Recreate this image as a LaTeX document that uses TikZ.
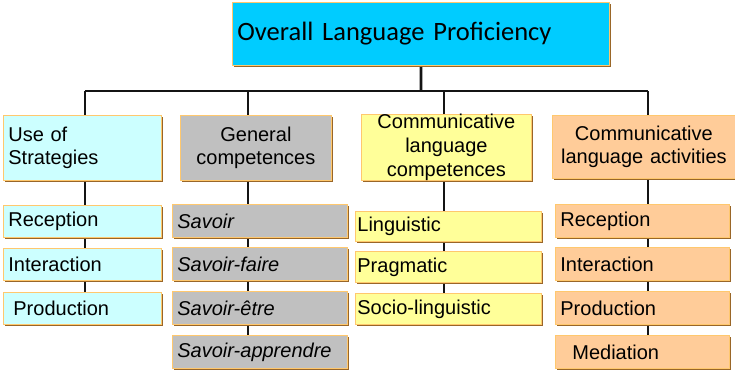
\documentclass[tikz,border=0pt]{standalone}
\usepackage{fontspec}
\setmainfont{Liberation Sans}
\newfontfamily\calibrifont{Carlito}
\usetikzlibrary{shadows,backgrounds}

\begin{document}
\begin{tikzpicture}[x=1bp,y=-1bp,
  box/.style={anchor=north west,draw=col_edge,line width=0.8bp,
    inner xsep=5bp,inner ysep=0bp,align=left,
    drop shadow={shadow xshift=1.3bp,shadow yshift=-1.3bp,fill=col_shade,opacity=1},
    font=\fontsize{20bp}{23.6bp}\selectfont},
  head/.style={minimum height=65bp},
  item/.style={minimum height=32bp},
  col1/.style={box,fill=col_use,minimum width=158bp,text width=148bp},
  col2/.style={box,fill=col_gen,minimum width=175bp,text width=165bp},
  col3/.style={box,fill=col_clc,minimum width=186bp,text width=176bp},
  col4/.style={box,fill=col_cla,minimum width=174bp,text width=164bp},
  link/.style={line width=2.7bp,draw=col_line}]
%
\definecolor{col_top}{RGB}{0,204,255}
\definecolor{col_use}{RGB}{204,255,255}
\definecolor{col_gen}{RGB}{192,192,192}
\definecolor{col_clc}{RGB}{255,255,153}
\definecolor{col_cla}{RGB}{255,204,153}
\definecolor{col_edge}{RGB}{255,200,110}
\definecolor{col_shade}{RGB}{153,102,40}
\definecolor{col_line}{RGB}{20,20,20}
%
\useasboundingbox (0,0) rectangle (735,371);
%
\node[box,fill=col_top,minimum width=377bp,text width=367bp,minimum height=63bp,
  font=\calibrifont\fontsize{26.5bp}{32bp}\selectfont] (top) at (232,2) {Overall Language Proficiency};
%
%
\node[col1,head,minimum width=158bp] (use) at (3,115) {Use of\\Strategies};
\node[col2,head,minimum width=151bp,text width=141bp,align=center] (gen) at (180,115) {General\\competences};
\node[col3,head,minimum width=170bp,text width=160bp,minimum height=64bp,align=center] (clc) at (361,114) {Communicative\\language\\competences};
\node[col4,head,minimum width=183bp,text width=173bp,minimum height=63bp,align=center] (cla) at (552,115) {Communicative\\language activities};
%
%
\node[col1,item] (useR) at (3,205) {Reception};
\node[col1,item] (useI) at (3,248) {Interaction};
\node[col1,item] (useP) at (3,292) {\hspace{5bp}Production};
%
\node[col2,item,minimum height=33bp] (genS) at (172,204) {\itshape Savoir};
\node[col2,item,minimum height=33bp] (genF) at (172,247) {\itshape Savoir-faire};
\node[col2,item,minimum height=33bp] (genE) at (172,291) {\itshape Savoir-\^etre};
\node[col2,item,minimum height=33bp] (genA) at (172,335) {\itshape Savoir-apprendre};
%
\node[col3,item,minimum height=30bp,inner xsep=2bp,text width=182bp] (clcL) at (355,211) {Linguistic};
\node[col3,item,minimum height=31bp,inner xsep=2bp,text width=182bp] (clcP) at (355,251) {Pragmatic};
\node[col3,item,minimum height=31bp,inner xsep=2bp,text width=182bp] (clcS) at (355,293) {Socio-linguistic};
%
\node[col4,item,minimum height=33bp] (claR) at (555,204) {Reception};
\node[col4,item,minimum height=33bp] (claI) at (555,247) {Interaction};
\node[col4,item,minimum height=33bp] (claP) at (555,291) {Production};
\node[col4,item,minimum height=33bp] (claM) at (555,335) {\hspace{12bp}Mediation};
%
%
\coordinate (bus) at (421,91);
\coordinate (j1) at (85,91);
\coordinate (j2) at (248,91);
\coordinate (j3) at (444,91);
\coordinate (j4) at (648,91);
%
\begin{scope}[on background layer]
\draw[link] (top.south) -- (bus);
\draw[link] (j1) -- (j4);
\draw[link] (j1) -- (j1 |- useP.center);
\draw[link] (j2) -- (j2 |- genA.center);
\draw[link] (j3) -- (j3 |- clcS.center);
\draw[link] (j4) -- (j4 |- claM.south);
\end{scope}
%
\end{tikzpicture}
\end{document}
